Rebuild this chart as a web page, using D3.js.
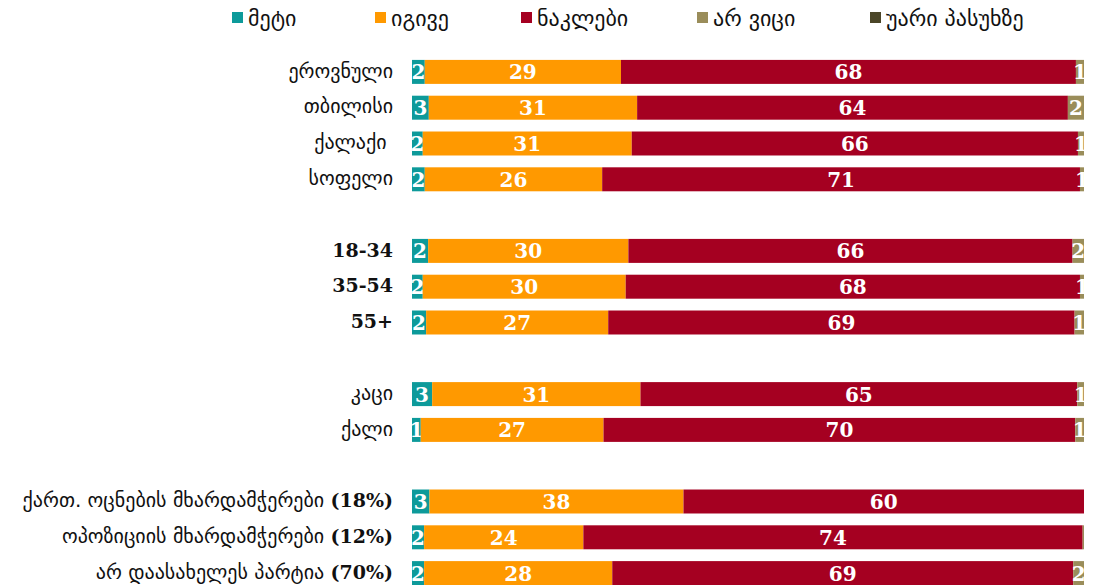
<!DOCTYPE html>
<html>
<head>
<meta charset="utf-8">
<script src="https://cdn.jsdelivr.net/npm/d3@7"></script>
<style>
  html, body { margin: 0; padding: 0; background: #ffffff; }
  svg { display: block; }
  .cat { white-space: pre; }
</style>
</head>
<body>
<svg id="chart" width="1107" height="585"></svg>
<script>
// Row labels; empty strings are spacer rows between groups
const categories = [
  "ეროვნული", "თბილისი", "ქალაქი ", "სოფელი", "",
  "18-34", "35-54", "55+", "",
  "კაცი", "ქალი", "",
  "ქართ. ოცნების მხარდამჭერები (18%)",
  "ოპოზიციის მხარდამჭერები (12%)",
  "არ დაასახელეს პარტია (70%)"
];

const seriesNames = ["მეტი", "იგივე", "ნაკლები", "არ ვიცი", "უარი პასუხზე"];
const seriesColors = ["#0d9a9a", "#ff9900", "#a50021", "#9a8d5a", "#4b4628"];

// Percent shares per row (null for spacer rows)
const more    = [1.9, 2.5, 1.6, 1.9, null, 2.4, 1.6, 2.1, null, 3.0, 1.3, null, 2.6, 1.8, 1.8];
const same    = [29.2, 31.0, 31.1, 26.4, null, 29.8, 30.2, 27.1, null, 31.0, 27.2, null, 37.8, 23.7, 28.0];
const less    = [67.7, 64.1, 66.4, 71.1, null, 66.1, 67.6, 69.4, null, 65.0, 70.2, null, 59.6, 74.3, 68.6];
const dontKnow= [1.2, 2.4, 0.9, 0.6, null, 1.7, 0.6, 1.4, null, 1.0, 1.3, null, 0.0, 0.2, 1.6];
const refused = [0, 0, 0, 0, null, 0, 0, 0, null, 0, 0, null, 0, 0, 0];

const seriesValues = [more, same, less, dontKnow, refused];

const svg = d3.select("#chart");
const serif = "'DejaVu Serif', serif";
const georgian = "'DejaVu Sans', sans-serif";

const x = d3.scaleLinear().domain([0, 100]).range([412, 1084]);
const y = d3.scaleBand()
  .domain(d3.range(categories.length))
  .range([54, 591])
  .paddingInner(0.33)
  .paddingOuter(0.165);

// Build stack input from the named arrays
const rows = categories.map((c, i) => {
  const r = { idx: i, label: c };
  seriesNames.forEach((s, k) => { r[s] = seriesValues[k][i] == null ? 0 : seriesValues[k][i]; });
  return r;
}).filter(r => r.label !== "");

const layers = d3.stack().keys(seriesNames)(rows);
const fmt = d3.format(".0f");

const g = svg.append("g");

const layerG = g.selectAll("g.layer")
  .data(layers)
  .join("g")
  .attr("class", "layer")
  .attr("fill", (d, i) => seriesColors[i]);

layerG.selectAll("rect")
  .data(d => d)
  .join("rect")
  .attr("x", d => x(d[0]))
  .attr("y", d => y(d.data.idx))
  .attr("width", d => Math.max(0, x(d[1]) - x(d[0])))
  .attr("height", y.bandwidth());

// Value labels inside segments
layerG.selectAll("text")
  .data(d => d.filter(p => Math.round(p[1] - p[0]) >= 1))
  .join("text")
  .attr("x", d => (x(d[0]) + x(d[1])) / 2)
  .attr("y", d => y(d.data.idx) + y.bandwidth() / 2)
  .attr("dy", "0.37em")
  .attr("text-anchor", "middle")
  .attr("fill", "#ffffff")
  .attr("font-family", serif)
  .attr("font-weight", "bold")
  .attr("font-size", 20)
  .text(d => fmt(d[1] - d[0]));

// Category labels: Georgian words in a plain face, numerals in bold serif
const cat = g.selectAll("text.cat")
  .data(rows)
  .join("text")
  .attr("class", "cat")
  .attr("x", 393)
  .attr("y", d => y(d.idx) + y.bandwidth() / 2)
  .attr("dy", "0.36em")
  .attr("text-anchor", "end")
  .attr("fill", "#111111");

cat.each(function(d) {
  const t = d3.select(this);
  const parts = d.label.match(/^(.*?)(\(?[0-9][0-9\-+%()]*\)?)?$/);
  const word = parts[1];
  const num = parts[2];
  if (word) {
    t.append("tspan")
      .attr("font-family", georgian)
      .attr("font-size", 20)
      .text(word);
  }
  if (num) {
    t.append("tspan")
      .attr("font-family", serif)
      .attr("font-weight", "bold")
      .attr("font-size", 19)
      .text(num);
  }
});

// Legend: items laid out left to right
const legendPos = [232, 375, 521, 697, 870];
const legend = svg.append("g").selectAll("g")
  .data(seriesNames)
  .join("g")
  .attr("transform", (d, i) => `translate(${legendPos[i]},12)`);

legend.append("rect")
  .attr("width", 11)
  .attr("height", 11)
  .attr("fill", (d, i) => seriesColors[i]);

legend.append("text")
  .attr("x", 16)
  .attr("y", 6)
  .attr("dy", "0.36em")
  .attr("fill", "#111111")
  .attr("font-family", georgian)
  .attr("font-size", 22)
  .text(d => d);
</script>
</body>
</html>
